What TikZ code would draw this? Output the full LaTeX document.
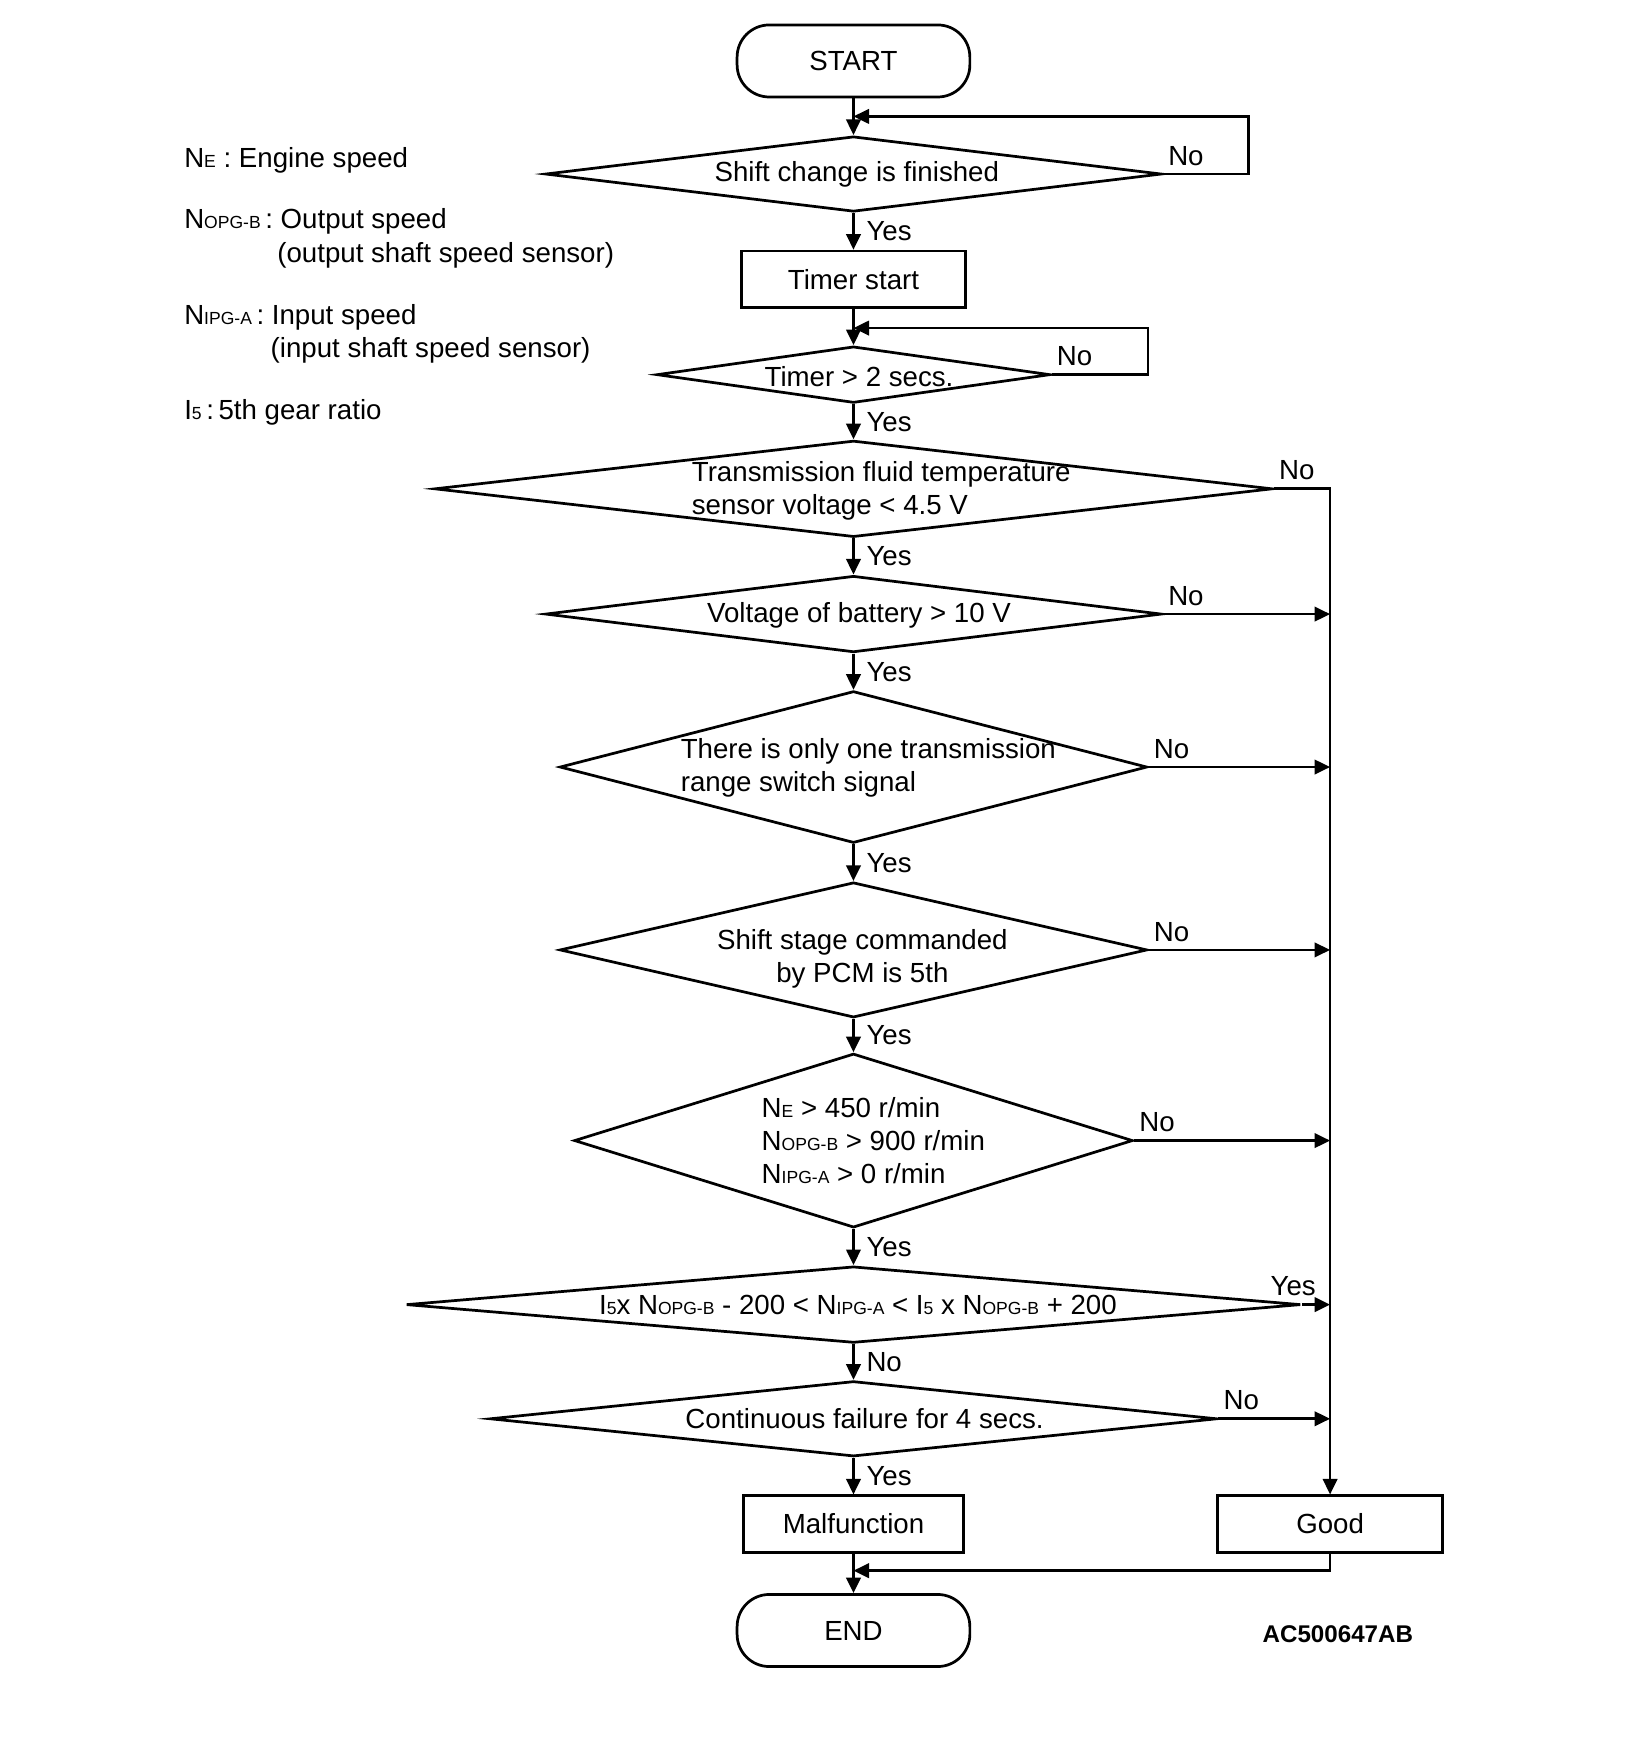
\documentclass[tikz,border=0pt]{standalone}
\usepackage{fontspec}
\setmainfont{Liberation Sans}
\usetikzlibrary{shapes.geometric, arrows.meta}

\newcommand{\sbx}[1]{{\fontsize{4.5}{5}\selectfont #1}}

\begin{document}
\begin{tikzpicture}[
    x=0.1mm, y=-0.1mm,
    line width=0.7pt,
    font=\fontsize{7.1}{8.5}\selectfont,
    term/.style={draw, rounded corners=2.9mm, minimum width=21mm, minimum height=6.5mm},
    proc/.style={draw, minimum width=20.2mm, minimum height=5.1mm},
    dec/.style={draw, diamond, inner sep=0pt},
    txt/.style={inner sep=0pt, align=center},
    legend/.style={inner sep=0pt, anchor=west},
    ylbl/.style={right, inner sep=1pt, xshift=0.7mm},
    nlbl/.style={pos=0, above right, inner sep=1pt, yshift=0.3mm},
    arr/.style={-{Triangle[length=1.4mm, width=1.3mm]}}
]
\useasboundingbox (0,0) rectangle (1472,1568);

% legend
\node[legend] (ne) at (165,145) {N\sbx{E} : Engine speed};
\node[legend] (nopg) at (165,200) {N\sbx{OPG-B}\,: Output speed};
\node[legend] (nopg2) at (249,230) {(output shaft speed sensor)};
\node[legend] (nipg) at (165,286) {N\sbx{IPG-A}\,: Input speed};
\node[legend] (nipg2) at (243,316) {(input shaft speed sensor)};
\node[legend] (i5) at (165,372) {I\sbx{5}\,:\,5th gear ratio};

% main column
\node[term] (start) at (770,55) {START};
\node[dec, minimum width=55.6mm, minimum height=6.8mm] (d1) at (770,157) {};
\node[txt] (t1) at (773,157) {Shift change is finished};
\node[proc] (timer) at (770,252) {Timer start};
\node[dec, minimum width=35.5mm, minimum height=5.1mm] (d2) at (770,338) {};
\node[txt] (t2) at (775,340) {Timer > 2 secs.};
\node[dec, minimum width=75.6mm, minimum height=8.7mm] (d3) at (770,441) {};
\node[txt, anchor=west, align=left] (t3) at (623,443) {Transmission fluid temperature\\sensor voltage < 4.5 V};
\node[dec, minimum width=55.6mm, minimum height=6.9mm] (d4) at (770,554) {};
\node[txt] (t4) at (775,555) {Voltage of battery > 10 V};
\node[dec, minimum width=53mm, minimum height=13.7mm] (d5) at (770,692) {};
\node[txt, anchor=west, align=left] (t5) at (613,693) {There is only one transmission\\range switch signal};
\node[dec, minimum width=53mm, minimum height=12.2mm] (d6) at (770,857) {};
\node[txt] (t6) at (778,865) {Shift stage commanded\\by PCM is 5th};
\node[dec, minimum width=50.4mm, minimum height=15.7mm] (d7) at (770,1029) {};
\node[txt, anchor=west, align=left] (t7) at (686,1029) {N\sbx{E} > 450 r/min\\N\sbx{OPG-B} > 900 r/min\\N\sbx{IPG-A} > 0 r/min};
\node[dec, minimum width=80.7mm, minimum height=6.9mm] (d8) at (770,1177) {};
\node[txt] (t8) at (774,1177) {I\sbx{5}x N\sbx{OPG-B} - 200 < N\sbx{IPG-A} < I\sbx{5} x N\sbx{OPG-B} + 200};
\node[dec, minimum width=65.6mm, minimum height=6.8mm] (d9) at (770,1280) {};
\node[txt] (t9) at (780,1280) {Continuous failure for 4 secs.};
\node[proc, minimum width=19.8mm] (malf) at (770,1375) {Malfunction};
\node[proc, minimum width=20.3mm] (good) at (1200,1375) {Good};
\node[term] (end) at (770,1471) {END};

\node[font=\fontsize{6.2}{7}\selectfont\bfseries] (code) at (1207,1474) {AC500647AB};

\coordinate (j1) at (770,105);
\coordinate (j2) at (770,296);
\coordinate (j3) at (770,1417);

% connectors
\draw[arr] (start) -- (d1);
\draw[arr] (d1.east) -- node[nlbl] (no1) {No} ++(77,0) |- (j1);
\draw[arr] (d1) -- node[ylbl] (yes1) {Yes} (timer);
\draw[arr] (timer) -- (d2);
\draw[arr] (d2.east) -- node[nlbl] (no2) {No} ++(87,0) |- (j2);
\draw[arr] (d2) -- node[ylbl] (yes2) {Yes} (d3);
\draw[arr] (d3) -- node[ylbl] (yes3) {Yes} (d4);
\draw[arr] (d4) -- node[ylbl] (yes4) {Yes} (d5);
\draw[arr] (d5) -- node[ylbl] (yes5) {Yes} (d6);
\draw[arr] (d6) -- node[ylbl] (yes6) {Yes} (d7);
\draw[arr] (d7) -- node[ylbl] (yes7) {Yes} (d8);
\draw[arr] (d8) -- node[ylbl] (no8) {No} (d9);
\draw[arr] (d9) -- node[ylbl] (yes9) {Yes} (malf);
\draw[arr] (malf) -- (end);

% right-hand bus to Good
\draw[arr] (d3.east) -- node[nlbl] (no3) {No} (d3.east -| good) -- (good);
\draw[arr] (d4.east) -- node[nlbl] (no4) {No} (d4.east -| good);
\draw[arr] (d5.east) -- node[nlbl] (no5) {No} (d5.east -| good);
\draw[arr] (d6.east) -- node[nlbl] (no6) {No} (d6.east -| good);
\draw[arr] (d7.east) -- node[nlbl] (no7) {No} (d7.east -| good);
\draw[arr] (d8.east) -- node[pos=0, above, inner sep=1pt, xshift=-0.8mm, yshift=0.3mm] (yes8) {Yes} (d8.east -| good);
\draw[arr] (d9.east) -- node[nlbl] (no9) {No} (d9.east -| good);
\draw[arr] (good.south) |- (j3);
\end{tikzpicture}
\end{document}
